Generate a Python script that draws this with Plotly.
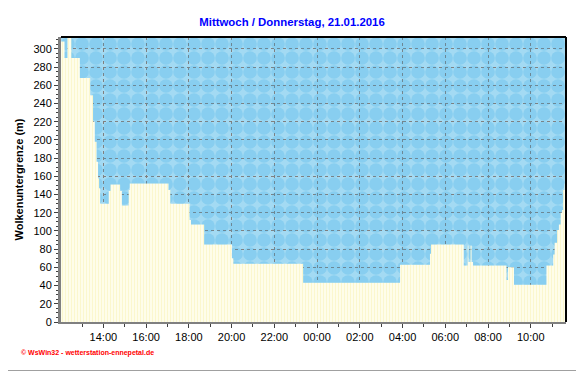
import plotly.graph_objects as go
import pandas as pd

# ---- data (cloud base height, step values) ----
times = [
    "2016-01-20 12:00", "2016-01-20 12:11", "2016-01-20 12:19", "2016-01-20 12:30",
    "2016-01-20 12:54", "2016-01-20 13:23", "2016-01-20 13:31", "2016-01-20 13:36",
    "2016-01-20 13:41", "2016-01-20 13:45", "2016-01-20 13:48", "2016-01-20 13:51",
    "2016-01-20 14:15", "2016-01-20 14:20", "2016-01-20 14:47", "2016-01-20 14:52",
    "2016-01-20 15:11", "2016-01-20 15:14", "2016-01-20 17:03", "2016-01-20 17:08",
    "2016-01-20 18:02", "2016-01-20 18:06", "2016-01-20 18:43", "2016-01-20 20:01",
    "2016-01-20 20:05", "2016-01-20 23:21", "2016-01-21 03:53", "2016-01-21 05:17",
    "2016-01-21 05:20", "2016-01-21 06:52", "2016-01-21 07:03", "2016-01-21 07:05",
    "2016-01-21 07:11", "2016-01-21 07:14", "2016-01-21 07:18", "2016-01-21 08:52",
    "2016-01-21 08:56", "2016-01-21 09:13", "2016-01-21 10:44", "2016-01-21 11:03",
    "2016-01-21 11:07", "2016-01-21 11:14", "2016-01-21 11:19", "2016-01-21 11:24",
    "2016-01-21 11:28", "2016-01-21 11:31", "2016-01-21 11:35", "2016-01-21 11:40",
]
cloud_base = [
    308, 290, 320, 290,
    268, 249, 220, 198,
    176, 158, 147, 130,
    144, 151, 144, 128,
    145, 152, 145, 130,
    112, 107, 85, 70,
    64, 43, 63, 75,
    85, 62, 84, 66,
    84, 66, 62, 46,
    60, 41, 62, 74,
    87, 101, 107, 120,
    123, 145, 152, 152,
]

title_text = "Mittwoch / Donnerstag, 21.01.2016"
y_title = "Wolkenuntergrenze (m)"
watermark = "\u00a9 WsWin32 - wetterstation-ennepetal.de"
x_range = ["2016-01-20 12:01", "2016-01-21 11:39"]
y_range = [0, 313]

x = pd.to_datetime(times)

fig = go.Figure()
# cream area below the cloud base
fig.add_trace(go.Scatter(
    x=x, y=cloud_base, mode="lines", line_shape="hv",
    line=dict(width=0, color="rgba(0,0,0,0)"),
    fill="tozeroy",
    fillcolor="#fffbe0",
    fillpattern=dict(shape="|", fgcolor="#f7efa8", bgcolor="#fffff4", size=3, solidity=0.5),
    hoverinfo="skip", showlegend=False,
))
# cloud texture above the cloud base (up to the top of the axis)
fig.add_trace(go.Scatter(
    x=x, y=[y_range[1]] * len(x), mode="lines", line_shape="hv",
    line=dict(width=0, color="rgba(0,0,0,0)"),
    fill="tonexty",
    fillpattern=dict(shape=".", fgcolor="rgba(40,165,225,0.45)", bgcolor="rgba(0,0,0,0)",
                     size=14, solidity=0.75),
    hoverinfo="skip", showlegend=False,
))

FONT = "Liberation Sans, Arial, sans-serif"
grid = dict(showgrid=True, gridcolor="#808080", gridwidth=1, griddash="3px,3px", zeroline=False)

# page body has an 8px margin: shrink the figure so the plot lands where the reference has it
OFF = 8
FW, FH = 584 - OFF, 372 - OFF
fig.update_layout(
    width=FW, height=FH,
    margin=dict(l=61 - OFF, r=FW - (566 - OFF), t=37 - OFF, b=FH - (322 - OFF), autoexpand=False),
    paper_bgcolor="white",
    plot_bgcolor="#a3daf3",
    font=dict(family=FONT, size=11, color="black"),
    title=dict(text="<b>" + title_text + "</b>", x=(292 - OFF) / FW, xanchor="center",
               y=1 - (22 - OFF) / FH, yanchor="middle",
               font=dict(family=FONT, size=11.4, color="#0000ff")),
    showlegend=False,
)
fig.update_xaxes(
    type="date", range=x_range, tickformat="%H:%M",
    tick0="2016-01-20 14:00", dtick=2 * 3600 * 1000,
    ticks="outside", ticklen=4, tickcolor="#404040",
    minor=dict(dtick=3600 * 1000, ticks="outside", ticklen=3, tickcolor="#404040", showgrid=False),
    showline=True, linecolor="#808080", linewidth=2,
    tickfont=dict(size=11), automargin=False, **grid,
)
fig.update_yaxes(
    range=y_range, dtick=20, tick0=0,
    ticks="outside", ticklen=4, tickcolor="#404040",
    minor=dict(dtick=5, ticks="outside", ticklen=2, tickcolor="#404040", showgrid=False),
    showline=True, linecolor="#808080", linewidth=3,
    tickfont=dict(size=11),
    title=dict(text="<b>" + y_title + "</b>", font=dict(size=11), standoff=8),
    automargin=False,
    **grid,
)

# top / right black frame of plot area
fig.add_shape(type="line", xref="paper", yref="paper", x0=0, x1=1, y0=1, y1=1,
              line=dict(color="black", width=2))
fig.add_shape(type="line", xref="paper", yref="paper", x0=1, x1=1, y0=0, y1=1,
              line=dict(color="black", width=2))
# outer image frame (right and bottom gray)
W = 505.0
H = 285.0
fig.add_shape(type="line", xref="paper", yref="paper",
              x0=(579.5 - 61) / W, x1=(579.5 - 61) / W, y0=(322 - 0) / H, y1=(322 - 370.5) / H,
              line=dict(color="#a0a0a0", width=1))
fig.add_shape(type="line", xref="paper", yref="paper",
              x0=(0 - 61) / W, x1=(579.5 - 61) / W, y0=(322 - 370.5) / H, y1=(322 - 370.5) / H,
              line=dict(color="#a0a0a0", width=1))

fig.add_annotation(text="<b>" + watermark + "</b>", xref="paper", yref="paper",
                   x=(19 - 61) / W, y=(322 - 353) / H, xanchor="left", yanchor="middle",
                   showarrow=False, font=dict(family=FONT, size=7, color="#ff0000"))

fig.write_html("out.html")
